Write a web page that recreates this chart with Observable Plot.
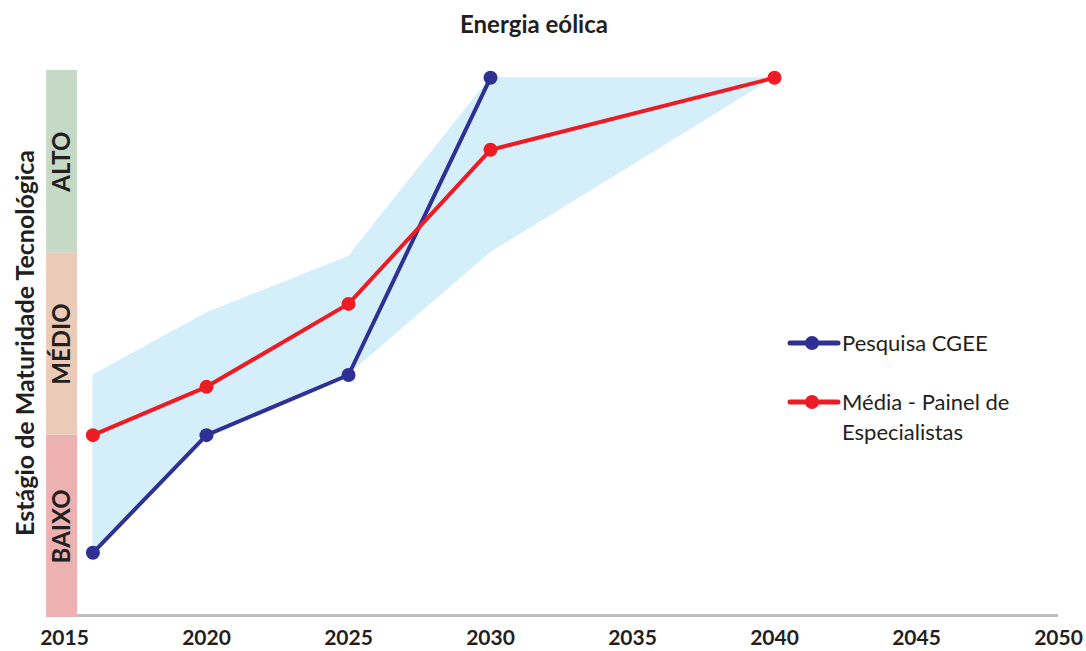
<!DOCTYPE html>
<html>
<head>
<meta charset="utf-8">
<script src="https://cdn.jsdelivr.net/npm/d3@7"></script>
<script src="https://cdn.jsdelivr.net/npm/@observablehq/plot@0.6"></script>
<style>
  html, body { margin: 0; padding: 0; background: #fff; }
  #wrap { position: relative; width: 1086px; height: 651px; font-family: Lato, "Open Sans", sans-serif; color: #231f20; }
  #title { height: 48px; line-height: 48px; text-align: center; padding-right: 18px; font-weight: bold; font-size: 24px; }
  .leg { position: absolute; left: 786px; display: flex; align-items: flex-start; font-size: 22px; line-height: 30px; }
  .leg svg { flex: none; margin-top: 4px; }
</style>
</head>
<body>
<div id="wrap">
  <div id="title">Energia eólica</div>
  <div id="chart"></div>
  <div id="legend"></div>
</div>
<script>
// ---- data ----
const years = [2016, 2020, 2025, 2030, 2040];
const cgeeYears = [2016, 2020, 2025, 2030];
const cgeeValues = [0.355, 1.0, 1.33, 2.96];
const painelValues = [1.0, 1.265, 1.72, 2.565, 2.96];
const bandLow = [0.355, 1.0, 1.33, 2.0, 2.96];
const bandHigh = [1.33, 1.67, 1.98, 2.96, 2.96];
const stageNames = ["BAIXO", "MÉDIO", "ALTO"];
const stageLow = [0, 1, 2];
const stageHigh = [1, 2, 3];
const stageColors = ["#ecb1b0", "#ebcbb7", "#c6d8c6"];
const tickYears = [2015, 2020, 2025, 2030, 2035, 2040, 2045, 2050];
const seriesNames = ["Pesquisa CGEE", "Média - Painel de Especialistas"];
const seriesColors = ["#2e3192", "#ed1c24"];
const yTitle = "Estágio de Maturidade Tecnológica";
const stageBarStart = 2014.37, stageBarEnd = 2015.46;

const cgee = cgeeYears.map((y, i) => ({year: y, value: cgeeValues[i]}));
const painel = years.map((y, i) => ({year: y, value: painelValues[i]}));
const band = years.map((y, i) => ({year: y, low: bandLow[i], high: bandHigh[i]}));
const stages = stageNames.map((n, i) => ({name: n, y1: stageLow[i], y2: stageHigh[i], color: stageColors[i]}));

const txt = "#231f20";
const chart = Plot.plot({
  width: 1086,
  height: 603,
  marginTop: 22,
  marginBottom: 34,
  marginLeft: 64,
  marginRight: 28,
  style: {fontFamily: "Lato, 'Open Sans', sans-serif", color: txt, background: "transparent"},
  x: {domain: [2015, 2050]},
  y: {domain: [0, 3], axis: null},
  marks: [
    Plot.rect(stages, {x1: stageBarStart, x2: stageBarEnd, y1: "y1", y2: "y2", fill: d => d.color}),
    Plot.text(stages, {x: (stageBarStart + stageBarEnd) / 2, y: d => (d.y1 + d.y2) / 2, text: "name", rotate: -90, fontSize: 24, fontWeight: "bold", fill: txt}),
    Plot.text([yTitle], {frameAnchor: "left", textAnchor: "middle", text: d => d, rotate: -90, dx: -39, dy: -1, fontSize: 25, fontWeight: "bold", fill: txt}),
    Plot.ruleY([0], {x1: stageBarEnd, x2: 2050, stroke: "#bcbec0", strokeWidth: 3, dy: -2}),
    Plot.areaY(band, {x: "year", y1: "low", y2: "high", fill: "#d4eefa"}),
    Plot.line(cgee, {x: "year", y: "value", stroke: seriesColors[0], strokeWidth: 4}),
    Plot.dot(cgee, {x: "year", y: "value", r: 7, fill: seriesColors[0]}),
    Plot.line(painel, {x: "year", y: "value", stroke: seriesColors[1], strokeWidth: 4}),
    Plot.dot(painel, {x: "year", y: "value", r: 7, fill: seriesColors[1]}),
    Plot.axisX({ticks: tickYears, tickFormat: d => String(d), tickSize: 0, tickPadding: 13, fontSize: 21, fontWeight: "bold", fill: txt, label: null})
  ]
});
document.getElementById("chart").append(chart);

// legend
const legend = document.getElementById("legend");
const legTops = [328, 387];
const legLabels = ["Pesquisa CGEE", "Média - Painel de<br>Especialistas"];
seriesNames.forEach((n, i) => {
  const d = document.createElement("div");
  d.className = "leg";
  d.style.top = legTops[i] + "px";
  d.innerHTML = `<svg width="56" height="22"><line x1="4" x2="52" y1="11" y2="11" stroke="${seriesColors[i]}" stroke-width="5" stroke-linecap="round"/><circle cx="26" cy="11" r="7" fill="${seriesColors[i]}"/></svg><span>${legLabels[i]}</span>`;
  legend.append(d);
});
</script>
</body>
</html>
